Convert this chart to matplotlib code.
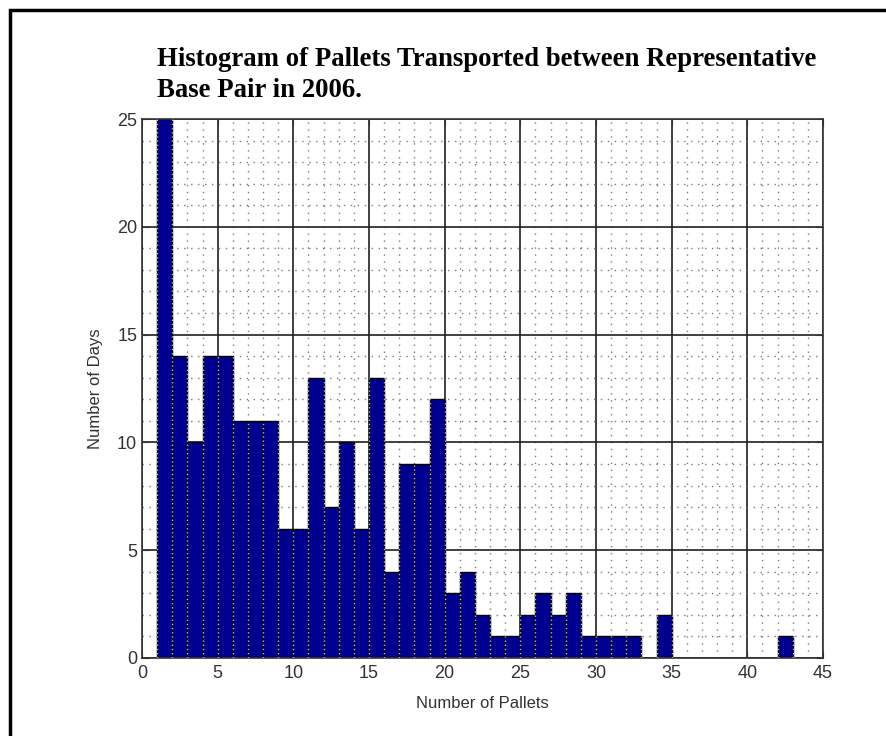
import matplotlib
matplotlib.use('Agg')
import matplotlib.pyplot as plt
from matplotlib.patches import Rectangle
from matplotlib.ticker import MultipleLocator
import numpy as np

# bin left edges (1 pallet wide) and number of days in each bin
bin_left = list(range(1, 43))
days = [25, 14, 10, 14, 14, 11, 11, 11, 6, 6,
        13, 7, 10, 6, 13, 4, 9, 9, 12, 3,
        4, 2, 1, 1, 2, 3, 2, 3, 1, 1,
        1, 1, 0, 2, 0, 0, 0, 0, 0, 0,
        0, 1]

title = 'Histogram of Pallets Transported between Representative\nBase Pair in 2006.'
xticks = [0, 5, 10, 15, 20, 25, 30, 35, 40, 45]
yticks = [0, 5, 10, 15, 20, 25]

fig = plt.figure(figsize=(8.86, 7.36), dpi=100)
ax = fig.add_axes([0.1603, 0.106, 0.7686, 0.7323])

ax.set_axisbelow(True)
ax.bar(bin_left, days, width=1.0, align='edge', color='#000090',
       edgecolor='black', linewidth=1.0, zorder=2)

# light dotted lines over the bar edges (MATLAB grid on top look)
d = np.array(days)
edges = np.arange(1, 44)
left = np.concatenate([[0], d])
right = np.concatenate([d, [0]])
tops = np.minimum(np.maximum(left, right), 25)
ax.vlines(edges, 0, tops, colors='#b8b8b8', linestyles=(0, (1, 2)), linewidth=1.0, zorder=3)

ax.set_xlim(0, 45)
ax.set_ylim(0, 25)
ax.set_xticks(xticks)
ax.set_yticks(yticks)
ax.xaxis.set_minor_locator(MultipleLocator(1))
ax.yaxis.set_minor_locator(MultipleLocator(1))
ax.grid(True, which='major', color='#202020', linestyle='-', linewidth=1.2)
ax.grid(True, which='minor', color='#7a7a7a', linestyle=(0, (1, 4)), linewidth=1.0)
ax.tick_params(which='both', direction='in', top=True, right=True)
ax.tick_params(which='major', length=5, labelsize=13, colors='#333333')
ax.tick_params(axis='x', which='major', pad=5)
ax.tick_params(which='minor', length=0)
for s in ax.spines.values():
    s.set_color('#333333')
    s.set_linewidth(1.2)

ax.set_xlabel('Number of Pallets', fontsize=12, family='Liberation Sans', color='#333333', labelpad=10)
ax.set_ylabel('Number of Days', fontsize=12, family='Liberation Sans', color='#333333', labelpad=10)
for lab in ax.get_xticklabels() + ax.get_yticklabels():
    lab.set_family('Liberation Sans')

fig.text(157 / 886, 1 - 47 / 736, title, ha='left', va='top', fontsize=19.3,
         family='Liberation Serif', fontweight='bold', linespacing=1.3)

# outer frame of the picture
fig.patches.append(Rectangle((10 / 886, -0.05), 1.2, 1 - 10 / 736 + 0.05,
                             transform=fig.transFigure, fill=False,
                             edgecolor='black', linewidth=2.5))

fig.savefig('out.png', dpi=100)
